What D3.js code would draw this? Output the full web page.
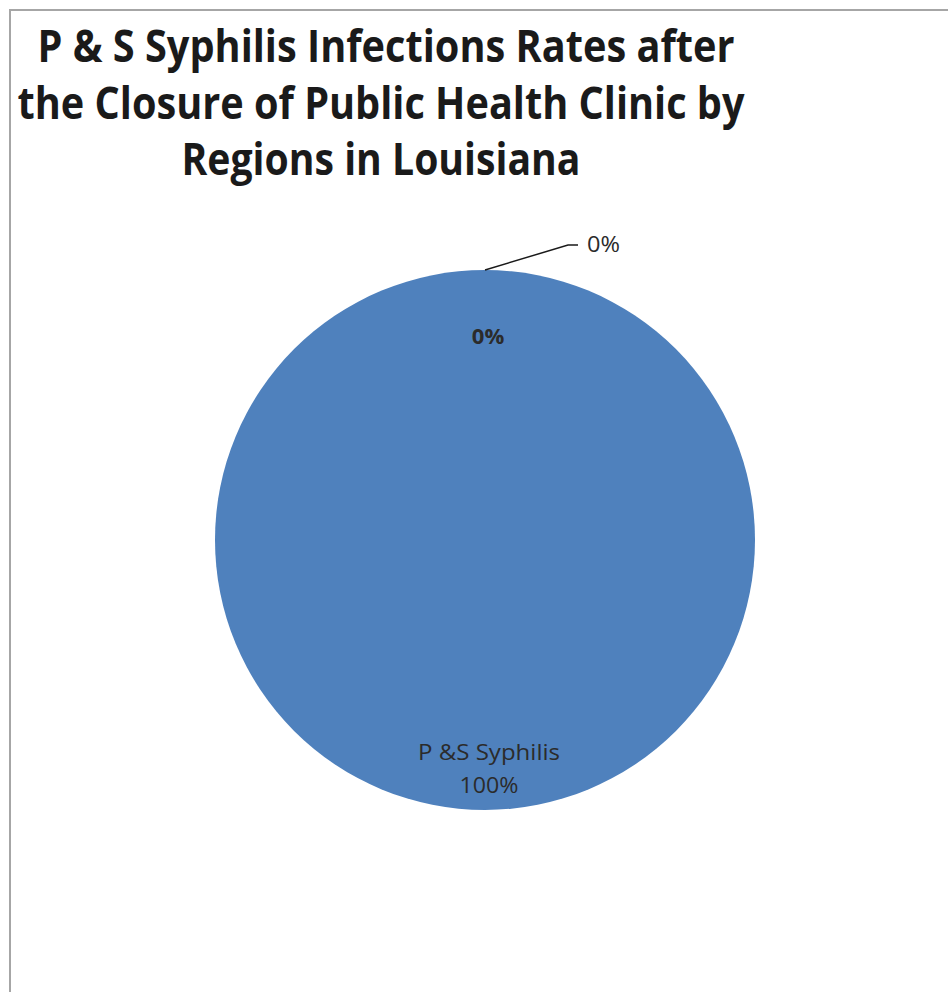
<!DOCTYPE html>
<html>
<head>
<meta charset="utf-8">
<script src="https://cdn.jsdelivr.net/npm/d3@7"></script>
<style>
  body { margin: 0; background: #fff; }
  svg { display: block; }
  .title { font-family: "Liberation Sans Narrow", "Open Sans", sans-serif; font-weight: bold; font-size: 44px; fill: #1a1a1a; }
  .lbl { font-family: "Open Sans", "Noto Sans", sans-serif; fill: #2b2b2b; }
</style>
</head>
<body>
<svg id="canvas" width="948" height="992"></svg>
<script>
// Configuration
const width = 948;
const height = 992;

// Data
const categories = ['P &S Syphilis', 'Other', 'Other '];
const values = [100, 0, 0];
const titleLines = [
    'P & S Syphilis Infections Rates after',
    'the Closure of Public Health Clinic by',
    'Regions in Louisiana'
];

const svg = d3.select('#canvas');
const fmt = d => `${Math.round(d)}%`;

// chart frame (only top and left edges visible)
svg.append('path')
    .attr('d', `M10,${height} L10,10 L${width},10`)
    .attr('fill', 'none')
    .attr('stroke', '#a6a6a6')
    .attr('stroke-width', 2);

// Title
const titleX = [386, 381, 381];
const titleW = [697, 727, 399];
svg.selectAll('.title')
    .data(titleLines)
    .enter()
    .append('text')
    .attr('class', 'title')
    .attr('x', (d, i) => titleX[i])
    .attr('y', (d, i) => 62 + i * 56.5)
    .attr('text-anchor', 'middle')
    .attr('textLength', (d, i) => titleW[i])
    .attr('lengthAdjust', 'spacingAndGlyphs')
    .text(d => d);

// Pie
const cx = 485, cy = 540, r = 270;
const total = d3.sum(values);
const pieData = d3.pie()
    .sort(null)
    .value(d => d.value)(categories.map((c, i) => ({ name: c, value: values[i] })));
const arc = d3.arc().innerRadius(0).outerRadius(r);

const g = svg.append('g').attr('transform', `translate(${cx},${cy})`);

g.selectAll('path.slice')
    .data(pieData)
    .enter()
    .append('path')
    .attr('class', 'slice')
    .attr('d', arc)
    .attr('fill', '#4f81bd');

// 100% slice label, inside near the bottom
const big = pieData[0];
const bigPos = d3.arc().innerRadius(236).outerRadius(236).centroid(big);
g.append('text')
    .attr('class', 'lbl')
    .attr('x', bigPos[0] + 4)
    .attr('y', bigPos[1] - 16)
    .attr('text-anchor', 'middle')
    .attr('textLength', 142)
    .attr('lengthAdjust', 'spacingAndGlyphs')
    .style('font-size', '21px')
    .text(big.data.name);
g.append('text')
    .attr('class', 'lbl')
    .attr('x', bigPos[0] + 4)
    .attr('y', bigPos[1] + 17)
    .attr('text-anchor', 'middle')
    .attr('textLength', 59)
    .attr('lengthAdjust', 'spacingAndGlyphs')
    .style('font-size', '21px')
    .text(fmt(big.data.value / total * 100));

// first zero slice: bold inside label
const z1 = pieData[1];
const z1Pos = d3.arc().innerRadius(203).outerRadius(203).centroid(z1);
g.append('text')
    .attr('class', 'lbl')
    .attr('x', z1Pos[0] + 3)
    .attr('y', z1Pos[1] + 7)
    .attr('text-anchor', 'middle')
    .style('font-size', '22px')
    .style('font-weight', 'bold')
    .text(fmt(z1.data.value / total * 100));

// second zero slice: outside label with leader line
const z2 = pieData[2];
const edge = d3.arc().innerRadius(r).outerRadius(r).centroid(z2);
const elbow = [edge[0] + 83, edge[1] - 25];
g.append('polyline')
    .attr('points', [edge, elbow, [elbow[0] + 10, elbow[1]]].map(p => p.join(',')).join(' '))
    .attr('fill', 'none')
    .attr('stroke', '#1a1a1a')
    .attr('stroke-width', 1.5);
g.append('text')
    .attr('class', 'lbl')
    .attr('x', elbow[0] + 19)
    .attr('y', elbow[1] + 7)
    .attr('textLength', 33)
    .attr('lengthAdjust', 'spacingAndGlyphs')
    .style('font-size', '21px')
    .text(fmt(z2.data.value / total * 100));
</script>
</body>
</html>
